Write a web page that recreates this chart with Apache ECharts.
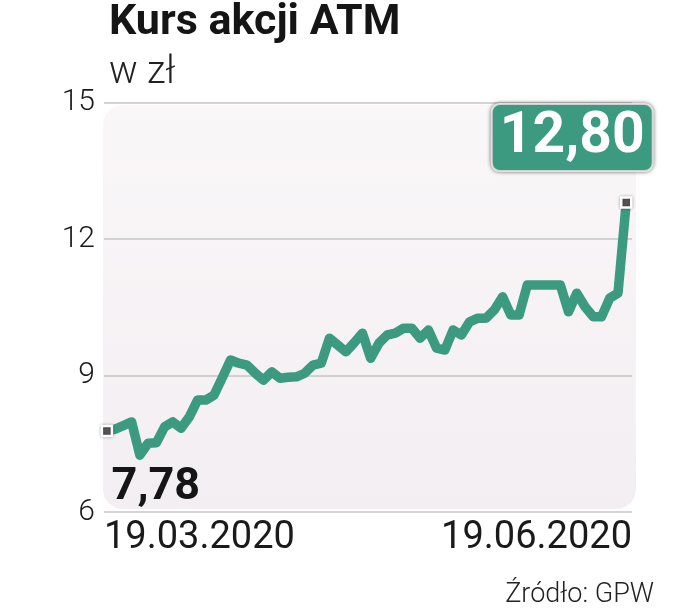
<!DOCTYPE html>
<html>
<head>
<meta charset="utf-8">
<script src="https://cdn.jsdelivr.net/npm/echarts@6/dist/echarts.min.js"></script>
<style>html,body{margin:0;padding:0;background:#fff;}#c{width:681px;height:609px;}</style>
</head>
<body>
<div id="c"></div>
<script>
const dates = ['19.03.2020', '19.06.2020'];
const yTicks = [6, 9, 12, 15];
const prices = [7.78, 7.82, 7.90, 7.98, 7.25, 7.51, 7.52, 7.87, 7.98, 7.84,
  8.09, 8.46, 8.46, 8.57, 8.95, 9.34, 9.27, 9.23, 9.05, 8.90,
  9.08, 8.94, 8.96, 8.97, 9.05, 9.23, 9.27, 9.82, 9.67, 9.52,
  9.72, 9.93, 9.38, 9.71, 9.89, 9.93, 10.04, 10.04, 9.82, 10.00,
  9.60, 9.56, 10.00, 9.89, 10.18, 10.26, 10.26, 10.44, 10.73, 10.33,
  10.33, 10.99, 10.99, 10.99, 10.99, 10.99, 10.40, 10.81, 10.51, 10.29,
  10.29, 10.70, 10.81, 12.80];

const fmt = v => v.toFixed(2).replace('.', ',');
const green = '#3b9a80';
const lastIdx = prices.length - 1;

const chart = echarts.init(document.getElementById('c'), null, {renderer: 'canvas'});
chart.setOption({
  animation: false,
  title: [
    {text: 'Kurs akcji ATM', left: 104, top: -3,
     textStyle: {fontFamily: 'Roboto', fontWeight: 'bold', fontSize: 43, color: '#151515'}},
    {text: 'w zł', left: 104, top: 49,
     textStyle: {fontFamily: 'Roboto', fontWeight: 300, fontSize: 38, color: '#222'}},
    {text: 'Źródło: GPW', right: 22, top: 577,
     textStyle: {fontFamily: 'Roboto', fontWeight: 300, fontSize: 27, color: '#222'}}
  ],
  grid: {left: 104, right: 49, top: 102.5, bottom: 97},
  graphic: [{
    type: 'rect', z: -10,
    shape: {x: 103, y: 105, width: 533, height: 404, r: 20},
    style: {fill: new echarts.graphic.LinearGradient(0, 0, 0, 1, [
      {offset: 0, color: '#faf7f9'}, {offset: 1, color: '#f3eef1'}])}
  }],
  xAxis: {
    type: 'value', min: -0.35, max: lastIdx + 0.7,
    axisLine: {show: false}, axisTick: {show: false}, splitLine: {show: false},
    axisLabel: {
      customValues: [-0.35, lastIdx + 0.7],
      alignMinLabel: 'left', alignMaxLabel: 'right',
      formatter: v => (v < lastIdx / 2 ? dates[0] : dates[1]),
      fontFamily: 'Roboto', fontSize: 38, color: '#1a1a1a', margin: 7
    }
  },
  yAxis: {
    type: 'value', min: yTicks[0], max: yTicks[yTicks.length - 1], interval: 3,
    axisLine: {show: false}, axisTick: {show: false},
    splitLine: {lineStyle: {color: '#c6c6c6', width: 1.5}},
    axisLabel: {fontFamily: 'Roboto', fontWeight: 300, fontSize: 30, color: '#1a1a1a', margin: 9}
  },
  series: [
    {
      type: 'line', data: prices.map((v, i) => [i, v]),
      symbol: 'none', z: 3,
      lineStyle: {color: green, width: 9.5, join: 'round', cap: 'round'}
    },
    {
      type: 'scatter', z: 5,
      symbol: 'rect', symbolSize: 10,
      itemStyle: {color: '#555', opacity: 1, borderColor: '#fff', borderWidth: 2.5,
                  shadowColor: 'rgba(0,0,0,0.35)', shadowBlur: 3},
      emphasis: {disabled: true},
      data: [
        {value: [0, prices[0]],
         label: {show: true, position: 'inside', offset: [49, 57], formatter: p => fmt(p.value[1]),
                 fontFamily: 'Roboto', fontWeight: 'bold', fontSize: 45, color: '#151515'}},
        {value: [lastIdx, prices[lastIdx]],
         label: {show: true, position: 'inside', offset: [-54, -65], formatter: p => fmt(p.value[1]),
                 fontFamily: 'Roboto', fontWeight: 'bold', fontSize: 57, lineHeight: 58, color: '#fff',
                 backgroundColor: green, borderColor: '#fff', borderWidth: 2, borderRadius: 7,
                 padding: [4, 7, 3, 7],
                 shadowColor: 'rgba(0,0,0,0.45)', shadowBlur: 4}}
      ]
    }
  ]
});
</script>
</body>
</html>
